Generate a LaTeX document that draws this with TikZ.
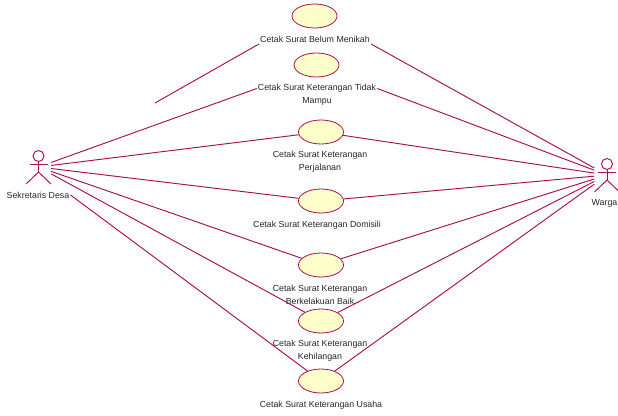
\documentclass[tikz,border=0pt]{standalone}
\usepackage{fontspec}
\setmainfont{Liberation Sans}
\usetikzlibrary{shapes.geometric}
\definecolor{umlline}{rgb}{0.66,0.07,0.29}
\definecolor{umlfill}{rgb}{1,1,0.8}
\tikzset{
    usecase/.style={ellipse, draw=umlline, fill=umlfill, line width=0.8pt, minimum width=45pt, minimum height=24pt, inner sep=0pt},
    actorbox/.style={minimum width=25pt, minimum height=38pt, inner sep=0pt},
    caption/.style={font=\fontsize{8.8}{12.8}\selectfont, align=center, inner sep=1pt, text=black!85},
    assoc/.style={draw=umlline, line width=0.95pt}
}
\begin{document}
\begin{tikzpicture}[x=1pt,y=-1pt]
    \useasboundingbox (0,0) rectangle (618,415);
    % use cases
    \foreach \name/\x/\y in {belum/314.5/16, tidak/316.5/65, jalan/321/132, domisili/321/201, baik/321/265, hilang/321/321, usaha/321/381}
    \node[usecase] (\name) at (\x,\y) {};
    \node[caption] (lblbelum) at (315,39.5) {Cetak Surat Belum Menikah};
    \node[caption] (lbltidak) at (317,94.5) {Cetak Surat Keterangan Tidak\\Mampu};
    \node[caption] (lbljalan) at (320,162) {Cetak Surat Keterangan\\Perjalanan};
    \node[caption] (lbldomisili) at (317,225) {Cetak Surat Keterangan Domisili};
    \node[caption] (lblbaik) at (320,295) {Cetak Surat Keterangan\\Berkelakuan Baik};
    \node[caption] (lblhilang) at (320,351) {Cetak Surat Keterangan\\Kehilangan};
    \node[caption] (lblusaha) at (321,405) {Cetak Surat Keterangan Usaha};
    % actors
    \node[actorbox] (sekretaris) at (38.5,167) {};
    \node[actorbox] (warga) at (607,175) {};
    \node[caption] (lblsekretaris) at (38,195) {Sekretaris Desa};
    \node[caption] (lblwarga) at (604.5,203) {Warga};
    \foreach \who in {sekretaris,warga}
    {
    \draw[assoc] ([yshift=11pt]\who.center) circle (5.5);
    \draw[assoc] ([xshift=-9pt,yshift=3pt]\who.center) -- ([xshift=9pt,yshift=3pt]\who.center);
    \draw[assoc] ([yshift=5.5pt]\who.center) -- ([yshift=-5pt]\who.center);
    \draw[assoc] ([xshift=-12.5pt,yshift=-17pt]\who.center) -- ([yshift=-5pt]\who.center) -- ([xshift=12.5pt,yshift=-17pt]\who.center);
    }
    % the web lines
    \coordinate (stub) at (155,103);
    \draw[assoc] (stub) -- (lblbelum.south west);
    \draw[assoc] (lblbelum.south east) -- (warga);
    \draw[assoc] (sekretaris) -- ([yshift=6pt]lbltidak.west);
    \draw[assoc] ([yshift=6pt]lbltidak.east) -- (warga);
    \foreach \name in {jalan,domisili,baik,hilang}
    {
    \draw[assoc] (sekretaris) -- (\name);
    \draw[assoc] (\name) -- (warga);
    }
    \draw[assoc] (lblsekretaris.east) -- (usaha);
    \draw[assoc] (usaha) -- (warga);
\end{tikzpicture}
\end{document}
